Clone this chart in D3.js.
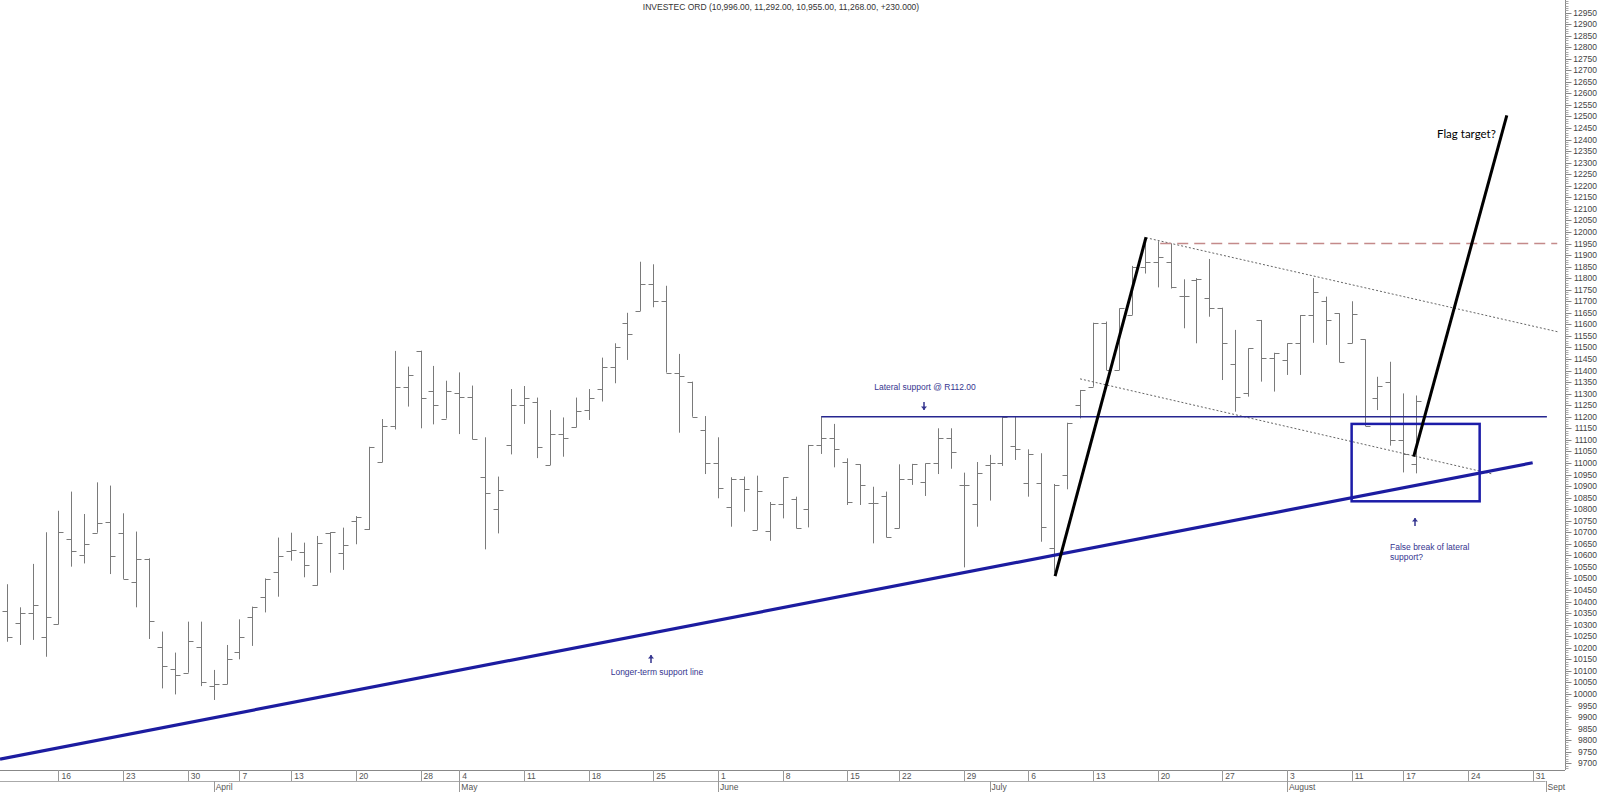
<!DOCTYPE html>
<html>
<head>
<meta charset="utf-8">
<script src="https://cdn.jsdelivr.net/npm/d3@7"></script>
<style>
  body { margin: 0; background: #fff; }
  svg { display: block; font-family: "Liberation Sans", Arial, sans-serif; }
</style>
</head>
<body>
<div id="chart"></div>
<script>
// daily bars, one per trading day (index 0 = first visible day)
const opens = [10358,10306,10349,10248,10303,10669,10602,10698,10744,10695,10486,10584,10202,10107,10092,10205,10034,10042,10182,10334,
  10418,10529,10620,10616,10470,10695,10609,10750,10713,11003,11161,11330,11486,11313,11192,11301,11284,10938,10802,11076,
  11252,11264,10991,11124,11154,11229,11320,11417,11604,11658,11775,11702,11391,11352,11143,11001,10811,10929,10710,10705,
  10822,10842,10799,11078,11107,11006,10994,10828,10857,10717,10929,10919,10998,11107,10903,10821,10991,11001,11073,10912,
  10912,10630,10946,11251,11330,11604,11402,11641,11850,11870,11870,11724,11792,11713,11672,11427,11301,11619,11453,11446,
  11518,11640,11700,11648,11518,11535,11283,11352,11100,10996];
const highs = [10475,10375,10563,10700,10793,10876,10779,10916,10902,10782,10703,10587,10270,10179,10313,10313,10104,10212,10323,10378,
  10500,10677,10698,10655,10684,10700,10720,10770,11070,11190,11485,11417,11486,11420,11356,11392,11335,11111,10941,11320,
  11333,11283,11229,11197,11283,11320,11456,11518,11650,11871,11860,11767,11472,11352,11203,11111,10938,10941,10945,10831,
  10938,10854,11078,11203,11169,11020,10994,10897,10876,10994,10996,10998,11150,11150,10958,11004,11035,11200,11200,11059,
  11042,10909,11174,11316,11607,11612,11669,11853,11975,11960,11950,11795,11800,11883,11672,11576,11496,11619,11477,11518,
  11640,11800,11720,11648,11700,11535,11373,11438,11301,11292];
const lows = [10226,10212,10234,10161,10301,10551,10565,10698,10519,10498,10375,10238,10024,9998,10092,10034,9974,10042,10150,10208,
  10353,10421,10577,10505,10469,10525,10537,10648,10710,11003,11145,11244,11150,11167,11192,11125,11102,10626,10695,11037,
  11169,11021,10991,11027,11154,11186,11266,11345,11446,11658,11674,11391,11131,11200,10952,10847,10724,10789,10710,10663,
  10760,10717,10721,11039,10981,10818,10818,10652,10678,10717,10905,10857,10952,10975,10548,10724,10837,10987,11013,10854,
  10659,10525,10886,11193,11330,11402,11402,11641,11820,11760,11755,11583,11518,11633,11359,11222,11287,11352,11309,11381,
  11381,11520,11511,11436,11518,11160,11229,11075,10959,10955];
const closes = [10248,10349,10384,10332,10700,10620,10648,10739,10597,10498,10584,10317,10121,10081,10228,10050,10042,10150,10248,10378,
  10498,10599,10623,10558,10655,10700,10643,10767,11070,11161,11330,11381,11283,11249,11313,11287,11102,10868,10881,11249,
  11280,11070,11124,11109,11225,11280,11417,11500,11557,11773,11702,11391,11376,11200,11001,10890,10932,10887,10880,10822,
  10938,10717,11078,11107,11062,10832,10903,10825,10678,10929,10994,10998,11107,11049,10903,10955,11001,11200,11062,11039,
  10721,10905,11174,11316,11607,11402,11669,11847,11870,11890,11760,11724,11796,11672,11518,11287,11496,11453,11475,11518,
  11640,11740,11619,11436,11645,11160,11333,11100,11039,11268];

// time axis: first trading day of each week / month, as bar index
const weekLabels = ['16','23','30','7','13','20','28','4','11','18','25','1','8','15','22','29','6','13','20','27','3','11','17','24','31'];
const weekStarts = [4,9,14,18,22,27,32,35,40,45,50,55,60,65,69,74,79,84,89,94,99,104,108,113,118];
const monthLabels = ['April','May','June','July','August','Sept'];
const monthStarts = [16,35,55,76,99,119];

// hand-drawn annotations, in (bar index, price)
const supportLine = [[-0.52, 9718], [118, 11001]];
const lateralSupport = [[63, 11200], [119.1, 11200]];
const resistance = [[89.2, 11950], [119.9, 11950]];
const flagPole = [[81.07, 10510], [88.1, 11977]];
const flagTarget = [[108.8, 11027], [116, 12505]];
const channelUpper = [[88.1, 11975], [120, 11567]];
const channelLower = [[83, 11364], [114.9, 10952]];
const breakBox = [[104, 11169], [113.9, 10834]];

const title = 'INVESTEC ORD (10,996.00, 11,292.00, 10,955.00, 11,268.00, +230.000)';

const width = 1600, height = 792;
const axisX = 1565, axisY = 770;

const svg = d3.select('#chart').append('svg')
  .attr('width', width)
  .attr('height', height);

const x = d3.scaleLinear().domain([-0.52, 120.5]).range([0, axisX]);
const y = d3.scaleLinear().domain([9700, 12950]).range([763.25, 12.5]);
const px = v => Math.round(v) + 0.5;

// title
svg.append('text')
  .attr('x', 781).attr('y', 10)
  .attr('text-anchor', 'middle')
  .attr('font-size', 8.5)
  .attr('fill', '#333')
  .text(title);

// y axis (right)
const yAxis = svg.append('g').attr('class', 'y-axis');
yAxis.append('line')
  .attr('x1', px(axisX)).attr('x2', px(axisX))
  .attr('y1', 0).attr('y2', axisY)
  .attr('stroke', '#888');

yAxis.selectAll('.minor')
  .data(d3.range(9680, 13001, 10))
  .enter().append('line')
  .attr('x1', px(axisX)).attr('x2', px(axisX) + 3)
  .attr('y1', d => px(y(d))).attr('y2', d => px(y(d)))
  .attr('stroke', '#aaa');

const major = yAxis.selectAll('.major')
  .data(d3.range(9700, 12951, 50))
  .enter().append('g');

major.append('line')
  .attr('x1', px(axisX)).attr('x2', px(axisX) + 6)
  .attr('y1', d => px(y(d))).attr('y2', d => px(y(d)))
  .attr('stroke', '#888');

major.append('text')
  .attr('x', 1597)
  .attr('y', d => y(d) + 3)
  .attr('text-anchor', 'end')
  .attr('font-size', 8.5)
  .attr('fill', '#444')
  .text(d => d);

// x axis (two rows: week starts, month starts)
const xAxis = svg.append('g').attr('class', 'x-axis');
xAxis.append('line')
  .attr('x1', 0).attr('x2', axisX)
  .attr('y1', px(axisY)).attr('y2', px(axisY))
  .attr('stroke', '#888');
xAxis.append('line')
  .attr('x1', 0).attr('x2', x(119))
  .attr('y1', px(axisY + 11)).attr('y2', px(axisY + 11))
  .attr('stroke', '#aaa');

const weeks = xAxis.selectAll('.week')
  .data(weekStarts)
  .enter().append('g');
weeks.append('line')
  .attr('x1', d => px(x(d))).attr('x2', d => px(x(d)))
  .attr('y1', axisY).attr('y2', axisY + 11)
  .attr('stroke', '#999');
weeks.append('text')
  .attr('x', d => x(d) + 3)
  .attr('y', axisY + 9)
  .attr('font-size', 8.5)
  .attr('fill', '#555')
  .text((d, i) => weekLabels[i]);

const months = xAxis.selectAll('.month')
  .data(monthStarts)
  .enter().append('g');
months.append('line')
  .attr('x1', d => px(x(d))).attr('x2', d => px(x(d)))
  .attr('y1', axisY + 11).attr('y2', height)
  .attr('stroke', '#999');
months.append('text')
  .attr('x', d => x(d) + 2)
  .attr('y', axisY + 20)
  .attr('font-size', 8.5)
  .attr('fill', '#555')
  .text((d, i) => monthLabels[i]);

// OHLC bars
const bars = svg.append('g')
  .selectAll('.bar')
  .data(opens.map((o, i) => ({ i, o, h: highs[i], l: lows[i], c: closes[i] })))
  .enter().append('g')
  .attr('stroke', '#7a7a7a')
  .attr('stroke-width', 1);

bars.append('line')
  .attr('x1', d => px(x(d.i))).attr('x2', d => px(x(d.i)))
  .attr('y1', d => y(d.h)).attr('y2', d => y(d.l));
bars.append('line')
  .attr('x1', d => px(x(d.i)) - 5).attr('x2', d => px(x(d.i)))
  .attr('y1', d => px(y(d.o))).attr('y2', d => px(y(d.o)));
bars.append('line')
  .attr('x1', d => px(x(d.i))).attr('x2', d => px(x(d.i)) + 5)
  .attr('y1', d => px(y(d.c))).attr('y2', d => px(y(d.c)));

// annotations
const line = d3.line().x(d => x(d[0])).y(d => y(d[1]));
const notes = svg.append('g').attr('fill', 'none');

notes.append('path').attr('d', line(channelUpper))
  .attr('stroke', '#666').attr('stroke-dasharray', '2,2');
notes.append('path').attr('d', line(channelLower))
  .attr('stroke', '#666').attr('stroke-dasharray', '2,2');
notes.append('path').attr('d', line(resistance))
  .attr('stroke', '#c48a8a').attr('stroke-width', 1.3).attr('stroke-dasharray', '11,6');
notes.append('path').attr('d', line(lateralSupport))
  .attr('stroke', '#262690').attr('stroke-width', 1.3);
notes.append('path').attr('d', line(supportLine))
  .attr('stroke', '#1c1ca0').attr('stroke-width', 3.2);
notes.append('rect')
  .attr('x', x(breakBox[0][0])).attr('y', y(breakBox[0][1]))
  .attr('width', x(breakBox[1][0]) - x(breakBox[0][0]))
  .attr('height', y(breakBox[1][1]) - y(breakBox[0][1]))
  .attr('stroke', '#1c1ca8').attr('stroke-width', 2.5);
notes.append('path').attr('d', line(flagPole))
  .attr('stroke', '#000').attr('stroke-width', 3);
notes.append('path').attr('d', line(flagTarget))
  .attr('stroke', '#000').attr('stroke-width', 3);

// notes text and little arrows
const noteColor = '#35358f';
const arrow = (cx, top, bottom, up) => {
  const g = svg.append('g').attr('fill', noteColor).attr('stroke', noteColor);
  g.append('line').attr('x1', cx).attr('x2', cx).attr('y1', top).attr('y2', bottom).attr('stroke-width', 1.5);
  const tip = up ? top : bottom;
  const dir = up ? 1 : -1;
  g.append('path')
    .attr('d', `M${cx - 3},${tip + dir * 3.5}L${cx + 3},${tip + dir * 3.5}L${cx},${tip}Z`)
    .attr('stroke', 'none');
};

svg.append('text')
  .attr('x', 925).attr('y', 390)
  .attr('text-anchor', 'middle')
  .attr('font-size', 8.5).attr('fill', noteColor)
  .text('Lateral support @ R112.00');
arrow(924, 402, 410, false);

svg.append('text')
  .attr('x', 657).attr('y', 675)
  .attr('text-anchor', 'middle')
  .attr('font-size', 8.5).attr('fill', noteColor)
  .text('Longer-term support line');
arrow(651, 655, 663, true);

svg.append('text')
  .attr('x', 1390).attr('y', 550)
  .attr('font-size', 8.5).attr('fill', noteColor)
  .text('False break of lateral');
svg.append('text')
  .attr('x', 1390).attr('y', 560)
  .attr('font-size', 8.5).attr('fill', noteColor)
  .text('support?');
arrow(1415, 518, 526, true);

svg.append('text')
  .attr('x', 1437).attr('y', 138)
  .attr('font-family', 'Lato, "Open Sans", sans-serif')
  .attr('font-size', 11.5)
  .attr('fill', '#000')
  .text('Flag target?');
</script>
</body>
</html>
